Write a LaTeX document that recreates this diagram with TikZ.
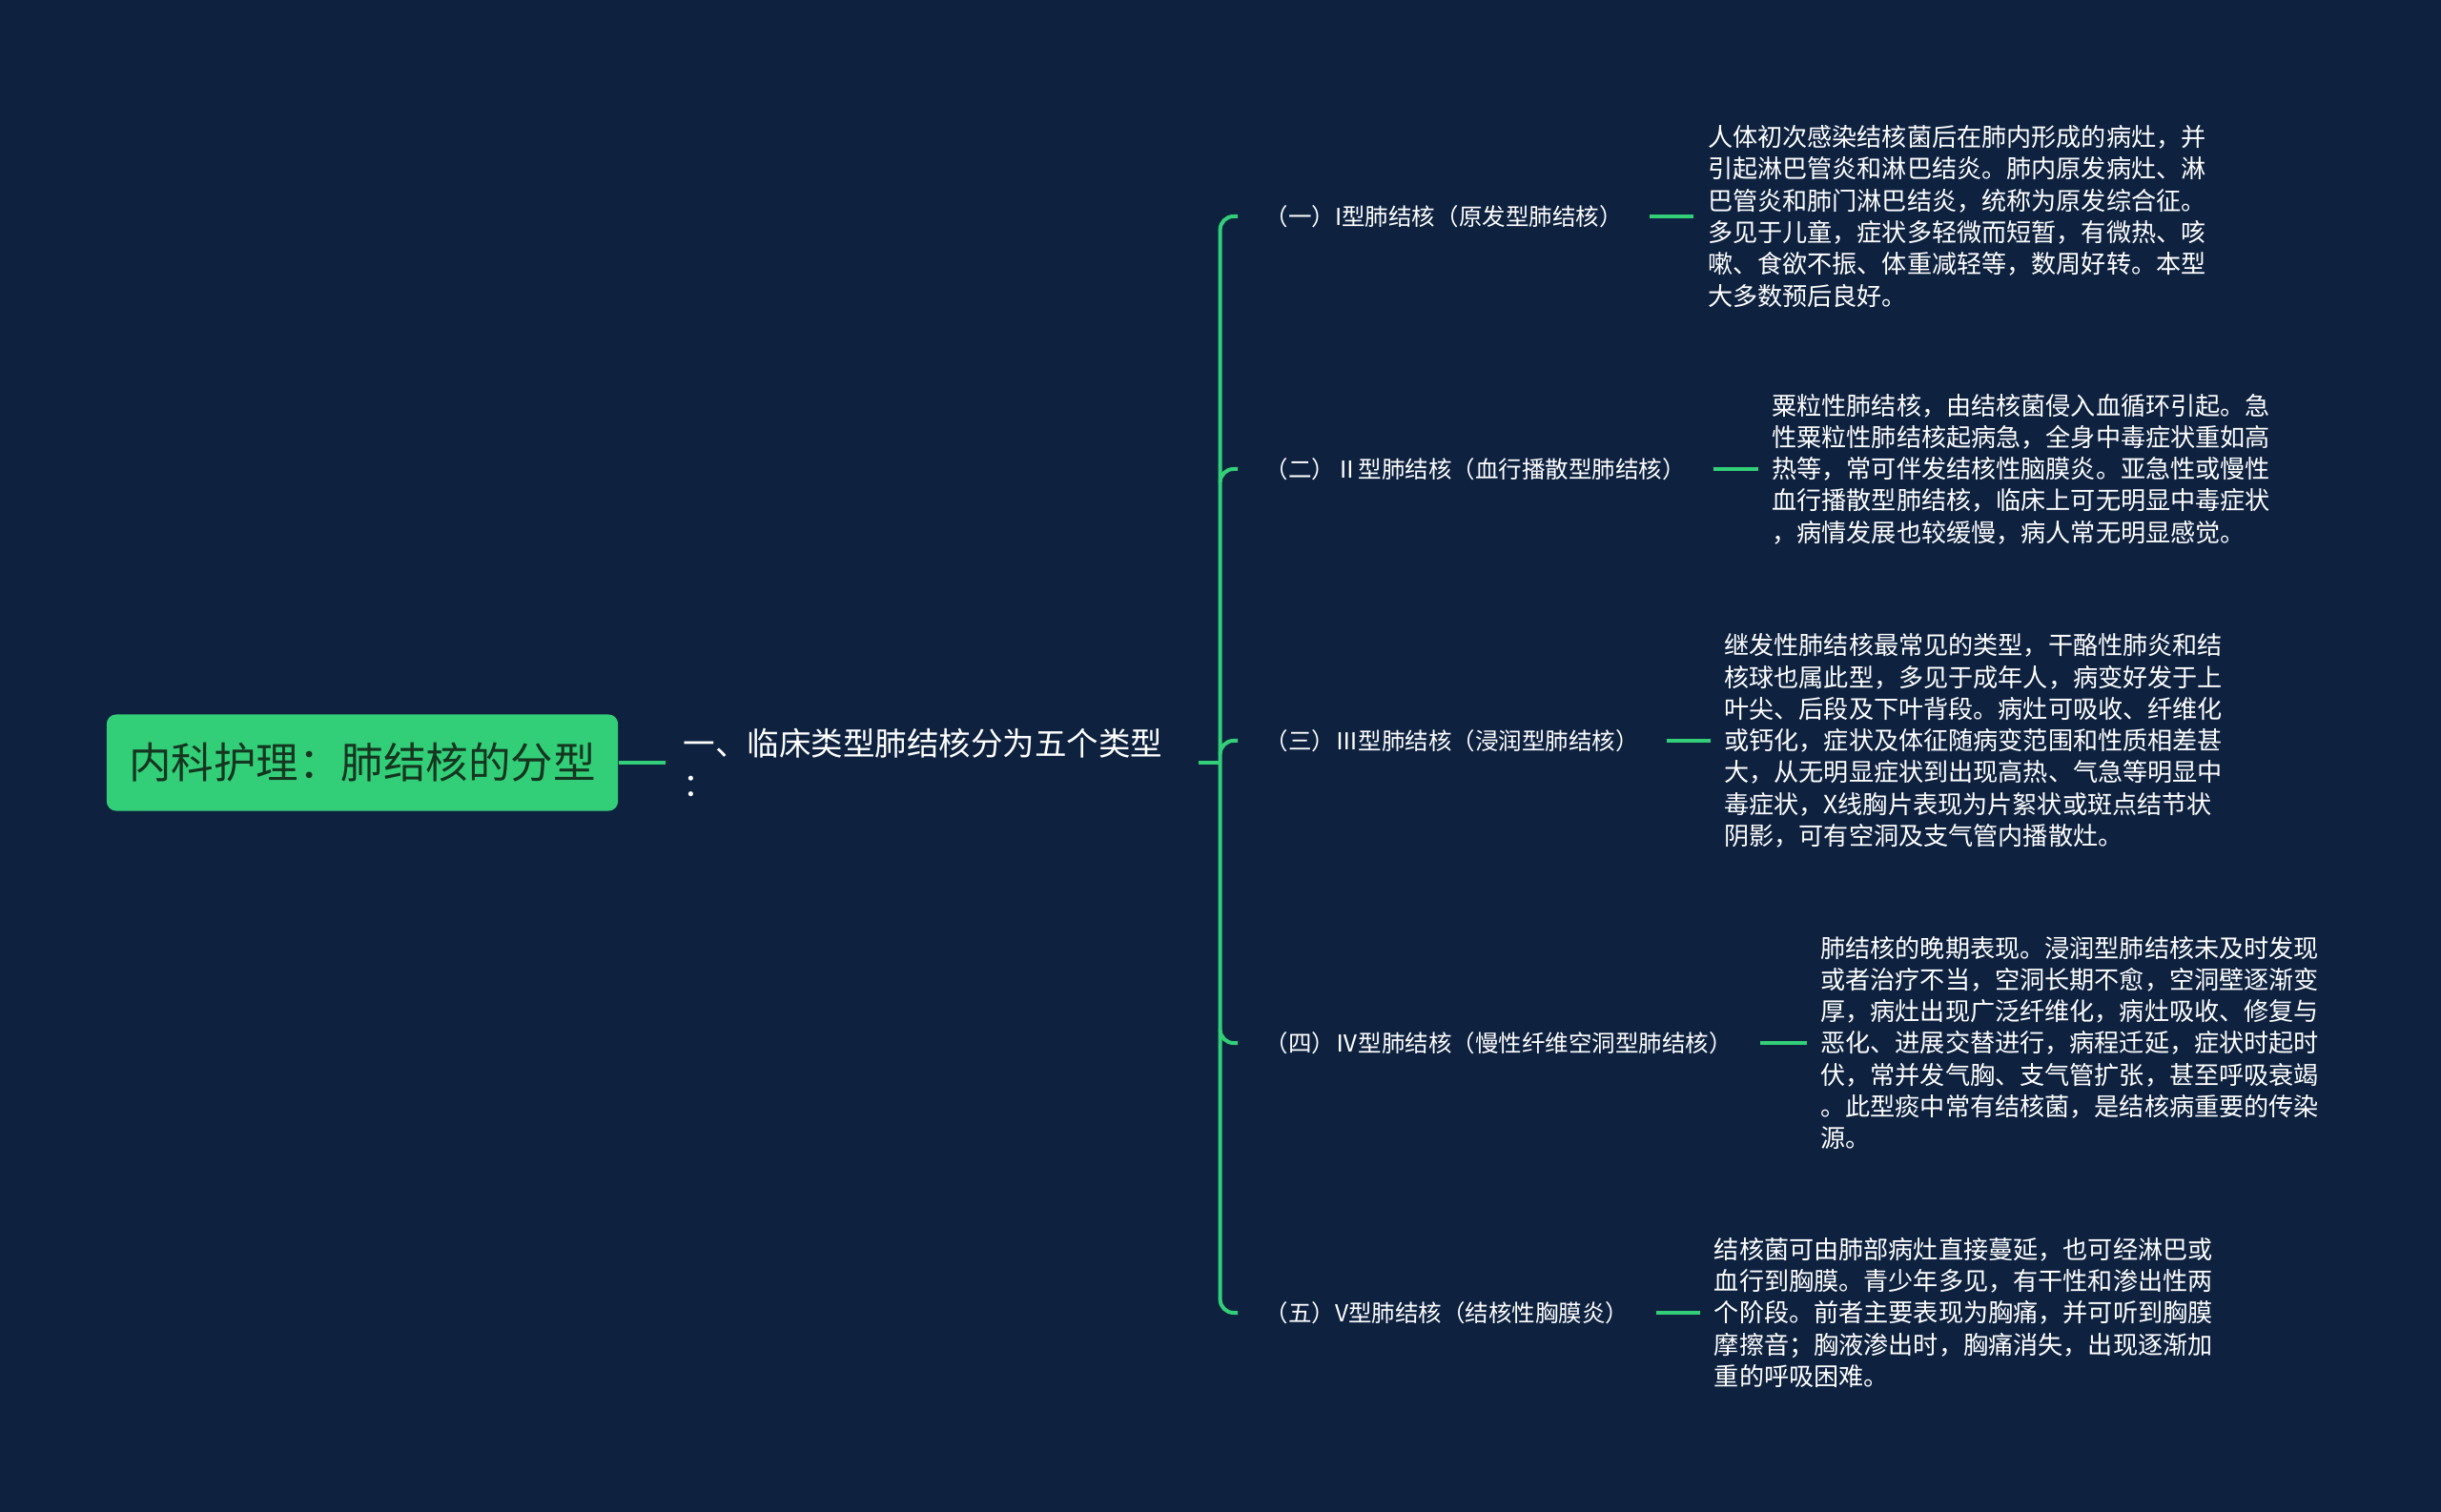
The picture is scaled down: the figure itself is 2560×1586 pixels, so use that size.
\documentclass[tikz,border=0pt]{standalone}
\usepackage{fontspec}
\setmainfont{Noto Sans CJK SC}
\usetikzlibrary{positioning}
\definecolor{bgnavy}{HTML}{0E2240}
\definecolor{mapgreen}{HTML}{33CF78}
\definecolor{rootink}{HTML}{143520}

\begin{document}
\begin{tikzpicture}[x=0.01cm,y=-0.01cm,
  link/.style={draw=mapgreen,line width=0.04cm},
  rootbox/.style={fill=mapgreen,rounded corners=0.1cm,minimum width=5.36cm,minimum height=1.01cm,text=rootink,font=\fontsize{12.66pt}{15pt}\selectfont},
  headbox/.style={text=white,align=left,text width=5.21cm,inner xsep=0.18cm,font=\fontsize{9.53pt}{12.1pt}\selectfont},
  typebox/.style={text=white,anchor=west,inner xsep=0.28cm,font=\fontsize{6.97pt}{8pt}\selectfont},
  notebox/.style={text=white,align=left,inner xsep=0.14cm,font=\fontsize{7.43pt}{9.47pt}\selectfont}]
\fill[bgnavy] (0,0) rectangle (2560,1586);
\useasboundingbox (0,0) rectangle (2560,1586);

\node[rootbox] (root) at (380,800) {内科护理：肺结核的分型};
\node[headbox,right=0.49cm of root] (head) {一、临床类型肺结核分为五个类型\\：};
\coordinate[right=0.23cm of head] (trunk);

\node[typebox] (t1) at (1298,227) {（一）I型肺结核（原发型肺结核）};
\node[typebox] (t2) at (1298,492) {（二）Ⅱ型肺结核（血行播散型肺结核）};
\node[typebox] (t3) at (1298,777) {（三）Ⅲ型肺结核（浸润型肺结核）};
\node[typebox] (t4) at (1298,1094) {（四）Ⅳ型肺结核（慢性纤维空洞型肺结核）};
\node[typebox] (t5) at (1298,1377) {（五）V型肺结核（结核性胸膜炎）};

\node[notebox,right=0.46cm of t1] (d1) {人体初次感染结核菌后在肺内形成的病灶，并\\引起淋巴管炎和淋巴结炎。肺内原发病灶、淋\\巴管炎和肺门淋巴结炎，统称为原发综合征。\\多见于儿童，症状多轻微而短暂，有微热、咳\\嗽、食欲不振、体重减轻等，数周好转。本型\\大多数预后良好。};
\node[notebox,right=0.47cm of t2] (d2) {粟粒性肺结核，由结核菌侵入血循环引起。急\\性粟粒性肺结核起病急，全身中毒症状重如高\\热等，常可伴发结核性脑膜炎。亚急性或慢性\\血行播散型肺结核，临床上可无明显中毒症状\\，病情发展也较缓慢，病人常无明显感觉。};
\node[notebox,right=0.46cm of t3] (d3) {继发性肺结核最常见的类型，干酪性肺炎和结\\核球也属此型，多见于成年人，病变好发于上\\叶尖、后段及下叶背段。病灶可吸收、纤维化\\或钙化，症状及体征随病变范围和性质相差甚\\大，从无明显症状到出现高热、气急等明显中\\毒症状，X线胸片表现为片絮状或斑点结节状\\阴影，可有空洞及支气管内播散灶。};
\node[notebox,right=0.49cm of t4] (d4) {肺结核的晚期表现。浸润型肺结核未及时发现\\或者治疗不当，空洞长期不愈，空洞壁逐渐变\\厚，病灶出现广泛纤维化，病灶吸收、修复与\\恶化、进展交替进行，病程迁延，症状时起时\\伏，常并发气胸、支气管扩张，甚至呼吸衰竭\\。此型痰中常有结核菌，是结核病重要的传染\\源。};
\node[notebox,right=0.46cm of t5] (d5) {结核菌可由肺部病灶直接蔓延，也可经淋巴或\\血行到胸膜。青少年多见，有干性和渗出性两\\个阶段。前者主要表现为胸痛，并可听到胸膜\\摩擦音；胸液渗出时，胸痛消失，出现逐渐加\\重的呼吸困难。};

\draw[link] (root.east) -- (head.west);
\draw[link] (head.east) -- (trunk);
\draw[link,rounded corners=0.14cm] (t1.west) -| (trunk) |- (t5.west);
\draw[link] (trunk |- t2.west) ++(0,14) arc[start angle=180,end angle=90,radius=0.14cm] -- (t2.west);
\draw[link] (trunk |- t3.west) ++(0,14) arc[start angle=180,end angle=90,radius=0.14cm] -- (t3.west);
\draw[link] (trunk |- t4.west) ++(0,-14) arc[start angle=180,end angle=270,radius=0.14cm] -- (t4.west);
\foreach \i in {1,...,5}
  \draw[link] (t\i.east) -- (d\i.west);
\end{tikzpicture}
\end{document}
